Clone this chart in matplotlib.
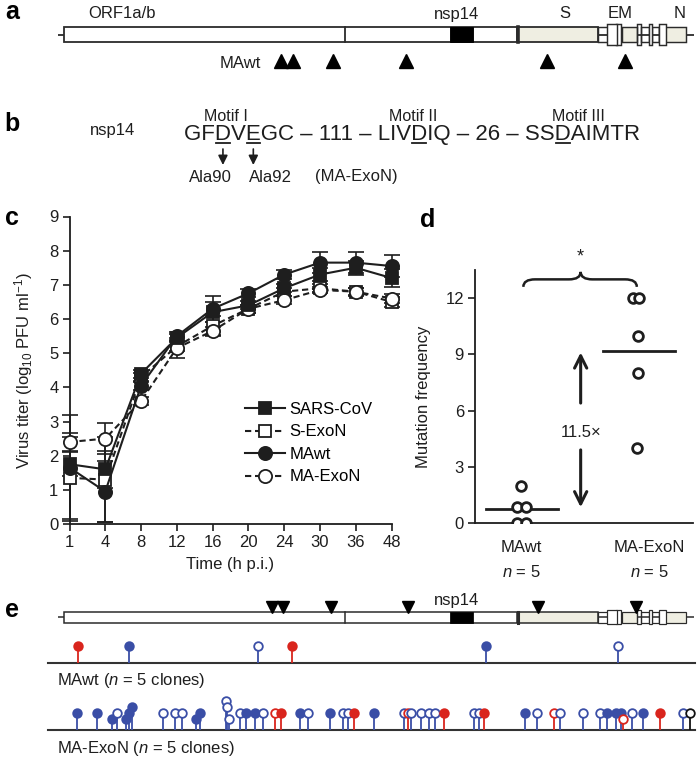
import numpy as np
import matplotlib
matplotlib.use("Agg")
import matplotlib.pyplot as plt
from matplotlib.patches import Rectangle, PathPatch
from matplotlib.path import Path
from matplotlib.transforms import blended_transform_factory
from matplotlib.font_manager import FontProperties

plt.rcParams['font.family'] = ['Liberation Sans', 'DejaVu Sans']
plt.rcParams['mathtext.fontset'] = 'custom'
plt.rcParams['mathtext.rm'] = 'Liberation Sans'
plt.rcParams['mathtext.it'] = 'Liberation Sans:italic'
plt.rcParams['mathtext.bf'] = 'Liberation Sans:bold'

# ======================= DATA =======================
# Genome map (nt positions, SARS-CoV)
genome_length = 29727
orf1ab = (265, 21485)
orf1a_end = 13413
nsp14_span = (18350, 19420)
s_gene = (21492, 25259)
small_orf_names = ['3a', 'E', 'M', '6', '7a', '7b', '8', 'N']
small_orf_start = [25268, 26117, 26398, 27074, 27273, 27638, 27779, 28120]
small_orf_end = [26092, 26347, 27063, 27265, 27641, 27772, 28118, 29388]
small_orf_fill = ['none', 'white', 'beige', 'none', 'none', 'white', 'none', 'beige']
small_orf_tall = [False, True, False, True, False, True, False, False]
nested_orf_names = ['3b', '9b']
nested_orf_start = [25689, 28130]
nested_orf_end = [26153, 28426]
gene_labels = ['ORF1a/b', 'nsp14', 'S', 'EM', 'N']

# MAwt adaptive mutations (triangles)
mawt_sites_a = [10419, 10981, 12853, 16269, 22867, 26517]
mawt_sites_e = [9998, 10513, 12759, 16362, 22446, 27032]

# Panel b
nsp14_sequence = "GFDVEGC \u2013 111 \u2013 LIVDIQ \u2013 26 \u2013 SSDAIMTR"
underlined_residues = [2, 4, 19, 32]
motif_labels = ['Motif I', 'Motif II', 'Motif III']
substitutions = ['Ala90', 'Ala92']
substituted_residues = [2, 4]

# Panel c : virus titer (log10 PFU/ml)
times = ['1', '4', '8', '12', '16', '20', '24', '30', '36', '48']
sars_cov = [1.75, 1.6, 4.4, 5.45, 6.2, 6.4, 6.9, 7.3, 7.5, 7.2]
sars_cov_err = [0.35, 0.55, 0.12, 0.12, 0.3, 0.12, 0.12, 0.2, 0.2, 0.25]
s_exon = [1.35, 1.3, 4.3, 5.2, 5.8, 6.3, 6.8, 6.9, 6.8, 6.5]
s_exon_err = [1.2, 1.25, 0.12, 0.15, 0.3, 0.12, 0.12, 0.12, 0.12, 0.15]
mawt = [1.65, 0.95, 4.05, 5.5, 6.3, 6.75, 7.3, 7.65, 7.65, 7.55]
mawt_err = [1.55, 0.9, 0.12, 0.12, 0.38, 0.12, 0.12, 0.3, 0.3, 0.32]
ma_exon = [2.4, 2.5, 3.6, 5.15, 5.65, 6.3, 6.55, 6.85, 6.8, 6.6]
ma_exon_err = [0.25, 0.45, 0.12, 0.3, 0.12, 0.12, 0.12, 0.1, 0.1, 0.12]

# Panel d : mutation frequency
groups = ['MAwt', 'MA-ExoN']
group_n = [5, 5]
mawt_freq = [2.0, 0.85, 0.85, 0.0, 0.0]
ma_exon_freq = [12.0, 12.0, 10.0, 8.0, 4.0]
fold_label = '11.5\u00d7'

# Panel e : mutations in clones
wt_mut_pos = [920, 3307, 9343, 10934, 20012, 26189]
wt_mut_color = ['r', 'b', 'b', 'r', 'b', 'b']
wt_mut_filled = [1, 1, 0, 1, 1, 0]
wt_mut_level = [0, 0, 0, 0, 0, 0]

exon_mut_pos = [873, 1809, 2511, 2745, 3166, 3306, 3447, 4897, 5459, 5786,
                6441, 6628, 7850, 7900, 7990, 8500, 8781, 9202, 9576, 10138,
                10418, 11307, 11682, 12711, 13319, 13553, 13834, 14770, 16174, 16361,
                16501, 16969, 17343, 17624, 18045, 19449, 19683, 19917, 21835, 22397,
                23192, 23473, 24549, 25344, 25672, 26093, 26327, 26420, 26842, 27356,
                28152, 29228, 29556]
exon_mut_color = ['b', 'b', 'b', 'b', 'b', 'b', 'b', 'b', 'b', 'b',
                  'b', 'b', 'b', 'b', 'b', 'b', 'b', 'b', 'b', 'r',
                  'r', 'b', 'b', 'b', 'b', 'b', 'r', 'b', 'b', 'r',
                  'b', 'b', 'b', 'b', 'r', 'b', 'b', 'r', 'b', 'b',
                  'r', 'b', 'b', 'b', 'b', 'b', 'b', 'r', 'b', 'b',
                  'r', 'b', 'k']
exon_mut_filled = [1, 1, 1, 0, 1, 1, 1, 0, 0, 0,
                   1, 1, 0, 0, 0, 0, 1, 1, 0, 0,
                   1, 1, 0, 1, 0, 0, 1, 1, 0, 0,
                   0, 0, 0, 0, 1, 0, 0, 1, 1, 0,
                   0, 0, 0, 0, 1, 1, 1, 0, 0, 1,
                   1, 0, 0]
exon_mut_level = [0, 0, -1, 0, -1, 0, 1, 0, 0, 0,
                  -1, 0, 2, 1, -1, 0, 0, 0, 0, 0,
                  0, 0, 0, 0, 0, 0, 0, 0, 0, 0,
                  0, 0, 0, 0, 0, 0, 0, 0, 0, 0,
                  0, 0, 0, 0, 0, 0, 0, -1, 0, 0,
                  0, 0, 0]
clone_labels = ['MAwt ($\\mathit{n}$ = 5 clones)', 'MA-ExoN ($\\mathit{n}$ = 5 clones)']

# ======================= FIGURE =======================
W, H = 700, 762
fig = plt.figure(figsize=(W / 100, H / 100), dpi=100)
INK = '#1e1e1e'
EDGE = '#2b2b2b'
BEIGE = '#efeee2'
RED = '#d9251d'
BLUE = '#3a4ea6'
colmap = {'r': RED, 'b': BLUE, 'k': '#111111'}

# pixel overlay axes
ax_px = fig.add_axes([0, 0, 1, 1])
ax_px.set_xlim(0, W)
ax_px.set_ylim(H, 0)
ax_px.axis('off')

# genome axes (x in nt, y in px)
px_per_nt = 0.02137
nt_left = 265 - 64 / px_per_nt
ax_g = fig.add_axes([0, 0, 1, 1])
ax_g.set_xlim(nt_left, nt_left + W / px_per_nt)
ax_g.set_ylim(H, 0)
ax_g.axis('off')


def draw_genome(yc, h, lw):
    fills = {'none': 'none', 'white': 'white', 'beige': BEIGE}
    ax_g.plot([0, genome_length], [yc, yc], color=EDGE, lw=lw, zorder=1,
              solid_capstyle='butt')
    ax_g.add_patch(Rectangle((orf1ab[0], yc - h / 2), orf1ab[1] - orf1ab[0], h,
                             fc='white', ec=EDGE, lw=lw, zorder=2))
    ax_g.plot([orf1a_end] * 2, [yc - h / 2, yc + h / 2], color=EDGE, lw=lw, zorder=3)
    ax_g.add_patch(Rectangle((nsp14_span[0], yc - h / 2), nsp14_span[1] - nsp14_span[0], h,
                             fc='black', ec='black', lw=lw * 0.5, zorder=3))
    ax_g.add_patch(Rectangle((s_gene[0], yc - h / 2), s_gene[1] - s_gene[0], h,
                             fc=BEIGE, ec=EDGE, lw=lw, zorder=2))
    ax_g.plot([s_gene[0]] * 2, [yc - h / 2, yc + h / 2], color=EDGE, lw=lw * 2, zorder=3)
    for s, e, f, t in zip(small_orf_start, small_orf_end, small_orf_fill, small_orf_tall):
        hh = h * 1.35 if t else h
        ax_g.add_patch(Rectangle((s, yc - hh / 2), e - s, hh, fc=fills[f], ec=EDGE,
                                 lw=lw * 0.8, zorder=4 if t else 2))
    for s, e in zip(nested_orf_start, nested_orf_end):
        hh = h * 1.35
        ax_g.add_patch(Rectangle((s, yc - hh / 2), e - s, hh, fc='white', ec=EDGE,
                                 lw=lw * 0.8, zorder=4))


# ---------- panel a ----------
draw_genome(34.5, 15, 1.3)
ax_g.plot(mawt_sites_a, [61] * len(mawt_sites_a), ls='none', marker='^', ms=10,
          color='black', zorder=5)
for lab, x in zip(gene_labels, [122, 457, 565, 620, 680]):
    ax_px.text(x, 14, lab, ha='center', va='center', fontsize=12, color=INK)
ax_px.text(240, 63, 'MAwt', ha='center', va='center', fontsize=12, color=INK)

# ---------- panel b ----------
renderer = fig.canvas.get_renderer()
seq_left, seq_base, seq_width = 184, 140, 457
prop = FontProperties(family='Liberation Sans', size=16)
w16, _, _ = renderer.get_text_width_height_descent(nsp14_sequence, prop, ismath=False)
seq_size = 16 * seq_width / w16
prop = FontProperties(family='Liberation Sans', size=seq_size)
ax_px.text(seq_left, seq_base, nsp14_sequence, ha='left', va='baseline',
           fontproperties=prop, color=INK)


def char_span(i):
    w0 = renderer.get_text_width_height_descent(nsp14_sequence[:i], prop, ismath=False)[0] if i > 0 else 0
    w1 = renderer.get_text_width_height_descent(nsp14_sequence[:i + 1], prop, ismath=False)[0]
    return seq_left + w0, seq_left + w1


for i in underlined_residues:
    a, b = char_span(i)
    ax_px.plot([a + 1, b - 1], [seq_base + 2.5, seq_base + 2.5], color=INK, lw=1.3)
for lab, x in zip(motif_labels, [226, 413, 578]):
    ax_px.text(x, 121, lab, ha='center', va='baseline', fontsize=11.5, color=INK)
ax_px.text(113, 135, 'nsp14', ha='center', va='baseline', fontsize=12, color=INK)
for i in substituted_residues:
    a, b = char_span(i)
    xc = (a + b) / 2
    ax_px.annotate('', xy=(xc, 165), xytext=(xc, 149),
                   arrowprops=dict(arrowstyle='-|>', color=INK, lw=1.2,
                                   mutation_scale=14, shrinkA=0, shrinkB=0))
for lab, x in zip(substitutions + ['(MA-ExoN)'], [210, 270, 356]):
    ax_px.text(x, 177, lab, ha='center', va='center', fontsize=12, color=INK)

# ---------- panel c ----------
axc = fig.add_axes([69.5 / W, 1 - 524 / H, 322 / W, 307.5 / H])
axc.patch.set_alpha(0)
xc_idx = np.arange(len(times))
series = {
    'SARS-CoV': (sars_cov, sars_cov_err, 's', INK, '-', 8.5),
    'S-ExoN': (s_exon, s_exon_err, 's', 'white', (0, (3, 1.8)), 8.5),
    'MAwt': (mawt, mawt_err, 'o', INK, '-', 9.5),
    'MA-ExoN': (ma_exon, ma_exon_err, 'o', 'white', (0, (3, 1.8)), 9.5),
}
handles = {}
for name in ['S-ExoN', 'MA-ExoN', 'SARS-CoV', 'MAwt']:
    vals, errs, mk, fc, ls, ms = series[name]
    axc.errorbar(xc_idx, vals, yerr=errs, fmt='none', ecolor=INK, elinewidth=1.2,
                 capsize=6, capthick=1.2, zorder=2, clip_on=False)
    ln, = axc.plot(xc_idx, vals, ls=ls, color=INK, lw=1.5, marker=mk, ms=ms, mfc=fc,
                   mec=INK, mew=1.3, zorder=3, clip_on=False)
    handles[name] = ln
axc.set_xlim(0, 9)
axc.set_ylim(0, 9)
axc.set_xticks(xc_idx)
axc.set_xticklabels(times)
axc.set_yticks(range(10))
for sp in ['top', 'right']:
    axc.spines[sp].set_visible(False)
for sp in ['left', 'bottom']:
    axc.spines[sp].set_color(INK)
    axc.spines[sp].set_linewidth(1.3)
axc.tick_params(direction='out', length=5, width=1.2, colors=INK, labelsize=12, pad=3)
axc.set_xlabel('Time (h p.i.)', fontsize=12, color=INK, labelpad=5)
axc.set_ylabel('Virus titer (log$_{10}$ PFU ml$^{-1}$)', fontsize=12, color=INK, labelpad=10)
axc.legend([handles[n] for n in ['SARS-CoV', 'S-ExoN', 'MAwt', 'MA-ExoN']],
           ['SARS-CoV', 'S-ExoN', 'MAwt', 'MA-ExoN'],
           loc='upper left', bbox_to_anchor=(245 / W, 1 - 402 / H),
           bbox_transform=fig.transFigure, frameon=False, fontsize=12,
           handlelength=2.4, handletextpad=0.25, labelspacing=0.45,
           borderpad=0, borderaxespad=0)

# ---------- panel d ----------
axd = fig.add_axes([475 / W, 1 - 523 / H, 218 / W, 253 / H])
axd.patch.set_alpha(0)
axd.set_xlim(-0.393, 1.47)
axd.set_ylim(0, 13.5)
jitter = [[0.0, -0.035, 0.04, -0.035, 0.04], [-0.04, 0.01, 0.0, 0.0, -0.01]]
for gi, vals in enumerate([mawt_freq, ma_exon_freq]):
    xs = gi + np.array(jitter[gi])
    axd.plot(xs, vals, ls='none', marker='o', ms=7, mfc='white', mec=INK, mew=2.0,
             zorder=3)
    m = np.mean(vals)
    axd.plot([gi - 0.3, gi + 0.32], [m, m], color=INK, lw=2.0, zorder=2)
for sp in ['top', 'right']:
    axd.spines[sp].set_visible(False)
for sp in ['left', 'bottom']:
    axd.spines[sp].set_color(INK)
    axd.spines[sp].set_linewidth(1.3)
axd.set_xticks([])
axd.set_yticks([0, 3, 6, 9, 12])
axd.tick_params(direction='out', length=5, width=1.2, colors=INK, labelsize=12, pad=3)
axd.set_ylabel('Mutation frequency', fontsize=12, color=INK, labelpad=10)
tr = blended_transform_factory(axd.transData, fig.transFigure)
for gi, (g, n) in enumerate(zip(groups, group_n)):
    xg = gi + 0.1 * gi
    axd.text(xg, 1 - 548 / H, g, transform=tr, ha='center', va='center', fontsize=12, color=INK)
    axd.text(xg, 1 - 572 / H, '$\\mathit{n}$ = %d' % n, transform=tr, ha='center',
             va='center', fontsize=12, color=INK)
# fold-change arrow
xa = 0.51
axd.annotate('', xy=(xa, np.mean(ma_exon_freq) - 0.1), xytext=(xa, 6.4),
             arrowprops=dict(arrowstyle='->', color=INK, lw=2.2, mutation_scale=22,
                             shrinkA=0, shrinkB=0))
axd.annotate('', xy=(xa, np.mean(mawt_freq) + 0.1), xytext=(xa, 3.9),
             arrowprops=dict(arrowstyle='->', color=INK, lw=2.2, mutation_scale=22,
                             shrinkA=0, shrinkB=0))
axd.text(xa, 4.85, fold_label, ha='center', va='center', fontsize=12, color=INK)
# brace + star
x0, x1, xm, yb, a, b = 0.02, 0.99, 0.51, 13.0, 0.4, 0.1
verts = [(x0, yb - a), (x0, yb), (x0 + b, yb), (xm - b, yb), (xm, yb), (xm, yb + a),
         (xm, yb), (xm + b, yb), (x1 - b, yb), (x1, yb), (x1, yb - a)]
codes = [Path.MOVETO, Path.CURVE3, Path.CURVE3, Path.LINETO, Path.CURVE3, Path.CURVE3,
         Path.CURVE3, Path.CURVE3, Path.LINETO, Path.CURVE3, Path.CURVE3]
axd.add_patch(PathPatch(Path(verts, codes), fc='none', ec=INK, lw=1.8, clip_on=False))
axd.text(xm, 14.2, '*', ha='center', va='center', fontsize=13, color=INK, clip_on=False)

# ---------- panel e ----------
draw_genome(617, 11, 1.1)
ax_g.plot(mawt_sites_e, [607] * len(mawt_sites_e), ls='none', marker='v', ms=8,
          color='black', zorder=5)
ax_px.text(457, 600, 'nsp14', ha='center', va='center', fontsize=12, color=INK)


def lollipops(pos, cols, filled, levels, base_y):
    for p, c, f, lv in zip(pos, cols, filled, levels):
        col = colmap[c]
        top = base_y - (17 + 6 * lv)
        ax_g.plot([p, p], [base_y, top], color=col, lw=1.3, zorder=3,
                  solid_capstyle='butt')
        ax_g.plot([p], [top], marker='o', ms=6.2, mfc=col if f else 'white', mec=col,
                  mew=1.3, zorder=4 + (1 if lv > 0 else 0))


for base_y, lab_y, data, lab in [
        (663, 681, (wt_mut_pos, wt_mut_color, wt_mut_filled, wt_mut_level), clone_labels[0]),
        (730, 749, (exon_mut_pos, exon_mut_color, exon_mut_filled, exon_mut_level), clone_labels[1])]:
    ax_px.plot([48, 695], [base_y, base_y], color='#333333', lw=1.5, zorder=2)
    lollipops(*data, base_y)
    ax_px.text(57, lab_y, lab, ha='left', va='center', fontsize=12, color=INK)

# panel letters
for letter, x, y in [('a', 12, 12), ('b', 12, 124), ('c', 12, 218), ('d', 428, 220), ('e', 12, 610)]:
    ax_px.text(x, y, letter, ha='center', va='center', fontsize=18, fontweight='bold',
               color='black')

fig.savefig('out.png', dpi=100)
